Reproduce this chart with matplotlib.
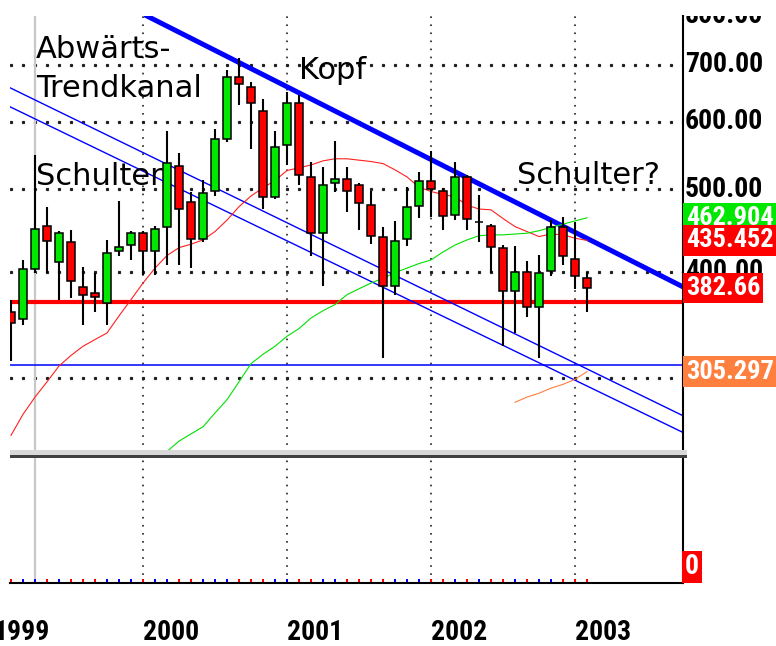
import numpy as np
import matplotlib
matplotlib.use("Agg")
import matplotlib.pyplot as plt
import matplotlib.transforms as mtransforms
from matplotlib.patches import Rectangle

plt.rcParams['lines.scale_dashes'] = False

# monthly candles, Feb 1999 .. Feb 2003 (index 0 = Feb 1999)
opens = [359, 352, 403, 453, 411, 433, 384, 378, 368, 423, 430, 444, 423,
         452, 533, 483, 437, 498, 573, 678, 660, 618, 490, 564, 632,
         517, 444, 509, 514, 506, 479, 440, 385, 437, 478, 512, 498,
         467, 517, 458, 453, 426, 380, 400, 364, 401, 451, 414, 393]
highs = [371, 413, 549, 477, 447, 448, 405, 399, 436, 485, 447, 447, 453,
         586, 552, 497, 513, 589, 690, 713, 668, 638, 586, 651, 645,
         539, 531, 570, 531, 508, 498, 451, 459, 503, 524, 555, 502,
         539, 520, 493, 455, 430, 429, 412, 419, 460, 464, 458, 400]
lows = [314, 346, 399, 399, 371, 373, 346, 359, 346, 417, 413, 397, 396,
        407, 407, 404, 434, 491, 568, 628, 558, 474, 487, 534, 506,
        417, 385, 497, 470, 448, 431, 317, 376, 429, 463, 464, 448,
        460, 448, 433, 399, 327, 339, 354, 317, 395, 407, 382, 359]
closes = [348, 403, 449, 435, 444, 390, 376, 374, 421, 428, 444, 423, 449,
          537, 474, 437, 495, 573, 678, 665, 632, 490, 561, 632, 520,
          444, 506, 514, 498, 482, 441, 385, 435, 477, 512, 501, 465,
          517, 462, 458, 428, 380, 400, 364, 399, 451, 417, 395, 382.66]

# moving averages
ma_red = [257, 272, 285, 297, 310, 319, 327, 333, 339, 355, 371, 388, 404,
          418, 427, 431, 436, 446, 460, 477, 491, 502, 512, 526, 530,
          534, 540, 543, 543, 541, 539, 536, 527, 517, 503, 497, 493,
          490, 479, 474, 473, 462, 452, 446, 440, 443, 442, 438, 435.452]
ma_green_start = 13
ma_green = [246, 253, 258, 263, 273, 283, 297, 312, 320, 327, 336, 343,
            353, 360, 366, 376, 382, 388, 393, 399, 404, 409, 413, 422,
            430, 436, 441, 442, 442, 443, 444, 447, 451, 455, 459, 462.904]
ma_orange_start = 42
ma_orange = [281, 285, 288, 292, 295, 299, 305.297]

# drawn lines
trend_x = [11.33, 56]
trend_y = [799, 384]
chan_x = [-0.08, 56]
chan_upper = [658, 271]
chan_lower = [625, 259]
support_red = 369
support_blue = 311

years = ['1999', '2000', '2001', '2002', '2003']
year_pos = [-1.4, 11, 23, 35, 47]
price_ticks = [800, 700, 600, 500, 400]
grid_levels = [700, 600, 500, 400, 300]
cursor_pos = 2

W, H = 776, 646
NUM_FONT = ['Roboto Condensed', 'Archivo Narrow', 'DejaVu Sans']
NUM_SIZE = 20
BOX_SIZE = 19
GREEN = '#00e800'
RED = '#ff0000'
ORANGE = '#ff7f3f'

def fx(px):
    return px / W

def fy(py):
    return 1 - py / H

fig = plt.figure(figsize=(W / 100, H / 100), dpi=100)
fig.patch.set_facecolor('white')

xlim = (-1 / 12, 56)
ylim = (245, 799)

# ---- main price panel
ax = fig.add_axes([fx(10), fy(453), fx(683) - fx(10), fy(16) - fy(453)])
ax.set_yscale('log')
ax.set_xlim(*xlim)
ax.set_ylim(*ylim)
for s in ['left', 'top', 'bottom']:
    ax.spines[s].set_visible(False)
ax.spines['right'].set_linewidth(1.5)
ax.set_xticks([])
ax.set_yticks([])
ax.minorticks_off()

idx = np.arange(len(opens))
grid_x = np.arange(0, 57)
for lev in grid_levels:
    ax.plot(grid_x, [lev] * len(grid_x), ls='none', marker='s', ms=1.3,
            color='#202020', zorder=1)
for xp in year_pos[1:]:
    ax.axvline(xp, color='#202020', lw=1.2, ls=(0, (1.2, 4.6)), zorder=1)
ax.axvline(cursor_pos, color='#c8c8c8', lw=1.6, zorder=1)

ax.axhline(support_red, color=RED, lw=3, zorder=2)
ax.axhline(support_blue, color='#0000ff', lw=1.1, zorder=2)
ax.plot(chan_x, chan_upper, color='#0000ff', lw=1.0, zorder=2)
ax.plot(chan_x, chan_lower, color='#0000ff', lw=1.0, zorder=2)
ax.plot(trend_x, trend_y, color='#0000ff', lw=3.6, zorder=2)

ax.plot(idx, ma_red, color='#ff2020', lw=0.8, zorder=2)
ax.plot(np.arange(ma_green_start, ma_green_start + len(ma_green)), ma_green,
        color='#00e000', lw=0.8, zorder=2)
ax.plot(np.arange(ma_orange_start, ma_orange_start + len(ma_orange)), ma_orange,
        color=ORANGE, lw=0.8, zorder=2)

# candles
o = np.array(opens, dtype=float)
c = np.array(closes, dtype=float)
cols = [GREEN if cc > oo else (RED if cc < oo else 'black') for oo, cc in zip(o, c)]
ax.vlines(idx, lows, highs, color='black', lw=1.5, zorder=3)
ax.bar(idx, np.abs(c - o), bottom=np.minimum(o, c), width=0.6, color=cols,
       edgecolor='black', linewidth=1.1, zorder=4)

# annotations
txt = dict(fontsize=22, family='DejaVu Sans', color='black', va='baseline',
           ha='left', zorder=6)
fig.text(fx(36), fy(58), 'Abwärts-', **txt)
fig.text(fx(36), fy(97), 'Trendkanal', **txt)
fig.text(fx(299), fy(79), 'Kopf', **txt)
fig.text(fx(36), fy(185), 'Schulter', **txt)
fig.text(fx(517), fy(184), 'Schulter?', **txt)

# ---- right price labels
lab = fig.add_axes([fx(683), fy(453), fx(776) - fx(683), fy(16) - fy(453)])
lab.set_yscale('log')
lab.set_ylim(*ylim)
lab.set_xlim(0, 1)
lab.axis('off')
for v in price_ticks:
    lab.text(0.02, v, f'{v:.2f}', fontsize=NUM_SIZE, weight='bold', family=NUM_FONT,
             va='center', ha='left', clip_on=True, zorder=2)
value_boxes = [(462.904, '462.904', GREEN), (435.452, '435.452', RED),
               (382.66, '382.66', RED), (305.297, '305.297', ORANGE)]
for k, (v, s, col) in enumerate(value_boxes):
    lab.text(0.03, v, s, fontsize=BOX_SIZE, weight='bold', family=NUM_FONT,
             color='white', va='center', ha='left', clip_on=True, zorder=3 + k,
             bbox=dict(boxstyle='square,pad=0.12', fc=col, ec='none'))

# ---- lower panel
ax2 = fig.add_axes([fx(10), fy(583), fx(683) - fx(10), fy(458) - fy(583)])
ax2.set_xlim(*xlim)
ax2.set_ylim(0, 1)
for s in ['left', 'top']:
    ax2.spines[s].set_visible(False)
ax2.spines['right'].set_linewidth(1.5)
ax2.spines['bottom'].set_linewidth(1.5)
ax2.set_xticks([])
ax2.set_yticks([])
for xp in year_pos[1:]:
    ax2.axvline(xp, color='#202020', lw=1.2, ls=(0, (1.2, 4.6)), zorder=1)
ax2.axvline(cursor_pos, color='#c8c8c8', lw=1.6, zorder=1)
dot_cols = ['#0000ff' if cc >= oo else RED for oo, cc in zip(o, c)]
ax2.scatter(idx, [0.02] * len(idx), s=3, marker='s', c=dot_cols, zorder=3,
            clip_on=False, linewidths=0)

fig.text(fx(685), fy(567), '0', fontsize=NUM_SIZE, weight='bold', family=NUM_FONT,
         color='white', va='center', ha='left',
         bbox=dict(boxstyle='square,pad=0.1', fc=RED, ec='none'))

# separator between panels
fig.add_artist(Rectangle((fx(10), fy(455)), fx(687) - fx(10), fy(450) - fy(455),
                         transform=fig.transFigure, fc='#d8d8d8', ec='none'))
fig.add_artist(Rectangle((fx(10), fy(458)), fx(687) - fx(10), fy(455) - fy(458),
                         transform=fig.transFigure, fc='#404040', ec='none'))

# year labels
tr = mtransforms.blended_transform_factory(ax2.transData, fig.transFigure)
for yl, xp in zip(years, year_pos):
    fig.text(xp, fy(633), yl, transform=tr, fontsize=NUM_SIZE, weight='bold',
             family=NUM_FONT, va='center', ha='left')

fig.savefig('out.png', dpi=100, facecolor='white')
